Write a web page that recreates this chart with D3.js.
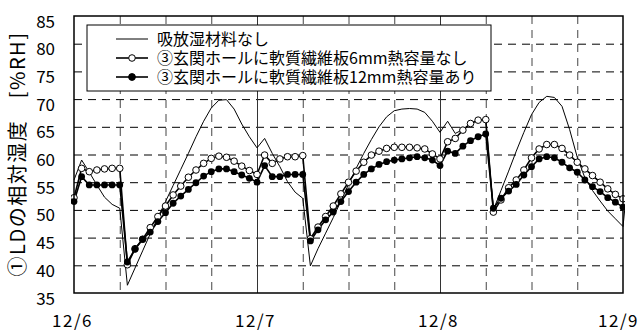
<!DOCTYPE html>
<html>
<head>
<meta charset="utf-8">
<script src="https://cdn.jsdelivr.net/npm/d3@7"></script>
<style>
  body { margin: 0; background: #fff; }
  svg { display: block; font-family: "Noto Sans CJK JP", sans-serif; }
</style>
</head>
<body>
<svg id="chart" width="643" height="334"></svg>
<script>
// hourly values, 12/6 0:00 .. 12/9 0:00 (+1 past the end for the plain line)
var noMaterial = [
  55.4, 59.0, 56.8, 54.5, 52.3, 51.0, 50.3, 36.4, 39.5, 42.6, 45.7, 48.6,
  51.5, 54.4, 57.3, 60.2, 63.2, 66.0, 68.4, 69.8, 69.9, 68.2, 65.5, 63.2,
  61.2, 62.9, 60.2, 57.8, 55.1, 53.2, 52.1, 39.9, 43.0, 45.8, 48.6, 51.6,
  54.6, 57.5, 60.2, 62.7, 65.0, 66.8, 67.9, 68.2, 68.3, 68.2, 67.6, 66.0,
  64.0, 66.0, 63.8, 64.5, 65.6, 66.2, 66.3, 50.0, 53.5, 57.0, 60.6, 64.0,
  67.2, 69.4, 70.5, 70.3, 68.7, 64.5, 59.5, 55.8, 53.5, 51.6, 49.8, 48.4,
  47.0, 60.5
];
var board6mm = [
  52.2, 57.5, 56.9, 57.2, 57.4, 57.5, 57.5, 40.1, 43.0, 44.7, 46.8, 48.8,
  50.7, 52.7, 54.3, 55.9, 57.2, 58.4, 59.3, 59.7, 59.5, 58.8, 57.9, 57.1,
  56.4, 59.9, 58.4, 59.2, 59.6, 59.6, 59.8, 44.8, 46.9, 48.8, 50.7, 52.9,
  55.0, 57.0, 58.6, 59.9, 60.6, 61.1, 61.3, 61.3, 61.3, 61.2, 61.0, 60.1,
  59.2, 62.3, 62.9, 64.4, 65.6, 66.2, 66.3, 49.6, 51.8, 54.0, 55.4, 57.2,
  59.4, 61.0, 61.8, 61.8, 61.1, 59.9, 58.6, 57.4, 56.2, 55.0, 53.8, 52.8,
  52.0
];
var board12mm = [
  51.5, 56.0, 54.5, 54.5, 54.5, 54.5, 54.5, 40.6, 42.9, 44.7, 46.0, 47.9,
  49.5, 51.2, 52.5, 53.7, 54.9, 56.1, 56.9, 57.4, 57.4, 56.9, 56.3, 55.7,
  55.0, 58.0, 56.0, 56.0, 56.4, 56.4, 56.4, 44.4, 46.4, 48.2, 49.6, 51.5,
  53.3, 55.0, 56.4, 57.4, 58.2, 58.7, 59.0, 59.2, 59.4, 59.6, 59.4, 59.0,
  58.0, 60.6, 60.2, 61.5, 62.5, 63.2, 63.7, 50.3, 52.1, 53.4, 54.6, 56.3,
  57.8, 59.2, 59.6, 59.4, 58.6, 57.6, 56.8, 55.4, 54.2, 53.3, 52.2, 51.4,
  50.5
];
var dayLabels = ["12/6", "12/7", "12/8", "12/9"];
var yTicks = [35, 40, 45, 50, 55, 60, 65, 70, 75, 80, 85];
var legendNames = ["吸放湿材料なし", "③玄関ホールに軟質繊維板6mm熱容量なし", "③玄関ホールに軟質繊維板12mm熱容量あり"];

var svg = d3.select("#chart");
var margin = {left: 74, top: 16, right: 20, bottom: 41};
var width = 643 - margin.left - margin.right,
    height = 334 - margin.top - margin.bottom;

var x = d3.scaleLinear().domain([0, 72]).range([0, width]);
var y = d3.scaleLinear().domain([35, 85]).range([height, 0]);

var g = svg.append("g").attr("transform", "translate(" + margin.left + "," + margin.top + ")");

// clip a little past the frame so the last segment pokes out like the original
svg.append("defs").append("clipPath").attr("id", "clip")
  .append("rect").attr("x", -3).attr("y", -5).attr("width", width + 5).attr("height", height + 10);

//////////// GRID ////////////

// horizontal dashed lines (dash pattern starts at left frame)
g.append("g")
  .call(d3.axisLeft(y).tickValues(yTicks.slice(1, -1)).tickSize(-width).tickFormat(""))
  .call(function (a) { a.select(".domain").remove(); })
  .selectAll("line")
  .attr("stroke", "#000").attr("stroke-dasharray", "8,6");

// vertical dashed lines every 6 h (dash pattern starts at top)
var sixHours = d3.range(6, 72, 6).filter(function (h) { return h % 24 !== 0; });
g.append("g")
  .call(d3.axisTop(x).tickValues(sixHours).tickSize(-height).tickFormat(""))
  .call(function (a) { a.select(".domain").remove(); })
  .selectAll("line")
  .attr("stroke", "#444").attr("stroke-dasharray", "8,6");

// day boundaries, solid
g.append("g")
  .call(d3.axisTop(x).tickValues([24, 48]).tickSize(-height).tickFormat(""))
  .call(function (a) { a.select(".domain").remove(); })
  .selectAll("line")
  .attr("stroke", "#333");

//////////// LEGEND BOX (drawn before lines) ////////////

var legend = g.append("g").attr("transform", "translate(13,9)");
legend.append("rect")
  .attr("width", 404).attr("height", 66)
  .attr("fill", "#fff").attr("stroke", "#000").attr("stroke-width", 1);

//////////// SERIES ////////////

var line = d3.line()
  .x(function (d, i) { return x(i); })
  .y(function (d) { return y(d); });

var plot = g.append("g").attr("clip-path", "url(#clip)");

plot.append("path").datum(noMaterial)
  .attr("fill", "none").attr("stroke", "#000").attr("stroke-width", 1)
  .attr("d", line);

plot.append("path").datum(board6mm)
  .attr("fill", "none").attr("stroke", "#000").attr("stroke-width", 1.6)
  .attr("d", line);
plot.append("path").datum(board12mm)
  .attr("fill", "none").attr("stroke", "#000").attr("stroke-width", 1.6)
  .attr("d", line);

plot.append("g").selectAll("circle").data(board6mm).enter().append("circle")
  .attr("cx", function (d, i) { return x(i); })
  .attr("cy", function (d) { return y(d); })
  .attr("r", 3.3)
  .attr("fill", "#fff").attr("stroke", "#000").attr("stroke-width", 1);

plot.append("g").selectAll("circle").data(board12mm).enter().append("circle")
  .attr("cx", function (d, i) { return x(i); })
  .attr("cy", function (d) { return y(d); })
  .attr("r", 3.4)
  .attr("fill", "#000");

//////////// FRAME + AXES ////////////

g.append("rect")
  .attr("width", width).attr("height", height)
  .attr("fill", "none").attr("stroke", "#000").attr("stroke-width", 1.5);

var yAxis = g.append("g")
  .call(d3.axisLeft(y).tickValues(yTicks).tickSize(0).tickPadding(19));
yAxis.select(".domain").remove();
yAxis.selectAll("text")
  .attr("font-family", "Noto Sans CJK JP").attr("font-size", 17)
  .attr("fill", "#000").attr("dy", "0.65em");

var xAxis = g.append("g")
  .attr("transform", "translate(0," + height + ")")
  .call(d3.axisBottom(x).tickValues([0, 24, 48, 72])
    .tickFormat(function (d, i) { return dayLabels[i]; })
    .tickSize(0).tickPadding(22));
xAxis.select(".domain").remove();
xAxis.selectAll("text")
  .attr("font-family", "Noto Sans CJK JP").attr("font-size", 17)
  .attr("letter-spacing", 1.5)
  .attr("dx", -2)
  .attr("fill", "#000");
// last label sits against the right edge
xAxis.selectAll(".tick:last-of-type text").attr("dx", -5);

svg.append("text")
  .attr("transform", "translate(25,154) rotate(-90)")
  .attr("text-anchor", "middle")
  .attr("font-size", 20)
  .attr("letter-spacing", 1.5)
  .text("①LDの相対湿度　[%RH]");

//////////// LEGEND ENTRIES ////////////

var rows = legend.selectAll("g.row").data(legendNames).enter().append("g")
  .attr("class", "row")
  .attr("transform", function (d, i) { return "translate(0," + (14 + i * 19) + ")"; });

rows.append("line")
  .attr("x1", 29).attr("x2", 61)
  .attr("stroke", "#000")
  .attr("stroke-width", function (d, i) { return i === 0 ? 1 : 1.6; });

rows.filter(function (d, i) { return i > 0; }).append("circle")
  .attr("cx", 45).attr("r", function (d, i) { return i === 0 ? 3.3 : 3.4; })
  .attr("fill", function (d, i) { return i === 0 ? "#fff" : "#000"; })
  .attr("stroke", "#000");

rows.append("text")
  .attr("x", 70).attr("dy", "0.36em")
  .attr("font-size", 16)
  .text(function (d) { return d; });
</script>
</body>
</html>
